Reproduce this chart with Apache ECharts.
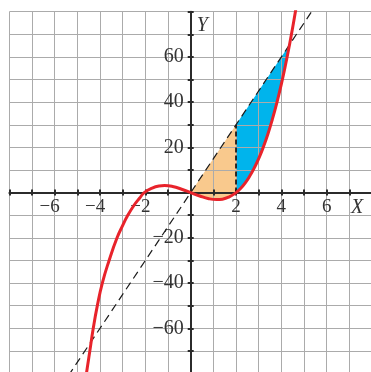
<!DOCTYPE html>
<html>
<head>
<meta charset="utf-8">
<script src="https://cdn.jsdelivr.net/npm/echarts@6/dist/echarts.min.js"></script>
<style>
html,body{margin:0;padding:0;background:#fff;}
#c{width:371px;height:372px;}
</style>
</head>
<body>
<div id="c"></div>
<script>
// ---- data ----
const curveX = [-4.7, -4.6, -4.45, -4.3, -4.12, -3.9, -3.6, -3.25, -3.0, -2.8, -2.5, -2.25, -2.05, -1.7, -1.4, -1.15, -0.8, -0.4, 0, 0.4, 0.8, 1.15, 1.4, 1.7, 2.0, 2.2, 2.4, 2.6, 2.8, 3.0, 3.2, 3.4, 3.6, 3.8, 4.0, 4.2, 4.36, 4.5, 4.62, 4.7];
const curveY = [-88, -80, -70, -60, -50, -40, -30, -20, -14.5, -10.5, -5.6, -2.4, 0, 2.0, 2.9, 3.1, 2.7, 1.5, 0, -1.5, -2.7, -3.1, -2.9, -1.9, 0, 1.8, 4.2, 7.2, 10.8, 15, 20, 25.7, 32.3, 39.7, 48, 57.3, 65.4, 73, 80, 85];
const lineX = [-5.4, 5.4];
const lineY = [-81, 81];
const orangeTopX = [0, 2];
const orangeTopY = [0, 30];
const blueTopX = [2, 4.36];
const blueTopY = [30, 65.4];
const dropX = [2, 2];
const dropY = [0, 30];
const xTickLabels = [-6, -4, -2, 2, 4, 6];
const yTickLabels = [-60, -40, -20, 20, 40, 60];

const FONT = '"Liberation Serif", "DejaVu Serif", serif';
const zip = (xs, ys) => xs.map((x, i) => [x, ys[i]]);
const curve = zip(curveX, curveY);

function curveBetween(a, b) {
  return curve.filter(p => p[0] >= a - 1e-9 && p[0] <= b + 1e-9);
}
const orangePoly = zip(orangeTopX, orangeTopY).concat(curveBetween(orangeTopX[0], orangeTopX[1]).reverse());
const bluePoly = zip(blueTopX, blueTopY).concat(curveBetween(blueTopX[0], blueTopX[1]).reverse());

function polySeries(pts, color) {
  return {
    type: 'custom', coordinateSystem: 'cartesian2d', silent: true, z: -1,
    data: [[0, 0]],
    renderItem: function (params, api) {
      return { type: 'polygon', shape: { points: pts.map(p => api.coord(p)) }, style: { fill: color } };
    }
  };
}

const chart = echarts.init(document.getElementById('c'), null, { renderer: 'canvas' });
const axisCol = '#2b2b2b';
const gridCol = '#ababab';
const GW = 362.6, GH = 361.8;

const option = {
  animation: false,
  backgroundColor: '#fff',
  grid: { left: 9.4, top: 11.7, width: GW, height: GH, containLabel: false, outerBoundsMode: 'none' },
  xAxis: [{
    type: 'value', min: -8, max: 8, interval: 1, position: 'bottom', offset: -GH / 2,
    axisLine: { onZero: false, lineStyle: { color: axisCol, width: 2 } },
    axisTick: { show: true, length: 3, lineStyle: { color: axisCol, width: 2 } },
    splitLine: { show: true, lineStyle: { color: gridCol, width: 1 } },
    axisLabel: {
      margin: 5, color: '#333', fontFamily: FONT, fontSize: 19,
      formatter: function (v) {
        if (xTickLabels.indexOf(v) < 0) return '';
        return v < 0 ? '{n|\u2212' + Math.abs(v) + '}' : String(v);
      },
      rich: { n: { fontFamily: FONT, fontSize: 19, color: '#333', padding: [0, 10, 0, 0] } }
    },
    name: 'X', nameLocation: 'end', nameGap: -21,
    nameTextStyle: { fontFamily: FONT, fontStyle: 'italic', fontSize: 20, color: '#333', align: 'left', verticalAlign: 'top', padding: [5, 0, 0, 0] }
  }, {
    type: 'value', min: -8, max: 8, interval: 1, position: 'bottom', offset: -GH / 2,
    axisLine: { show: false, onZero: false },
    axisTick: { show: true, inside: true, length: 3, lineStyle: { color: axisCol, width: 2 } },
    splitLine: { show: false }, axisLabel: { show: false }
  }],
  yAxis: [{
    type: 'value', min: -80, max: 80, interval: 10, position: 'left', offset: -GW / 2,
    axisLine: { onZero: false, lineStyle: { color: axisCol, width: 2 } },
    axisTick: { show: true, length: 3, lineStyle: { color: axisCol, width: 2 } },
    splitLine: { show: true, lineStyle: { color: gridCol, width: 1 } },
    axisLabel: {
      margin: 7, color: '#333', fontFamily: FONT, fontSize: 20, padding: [5, 0, 0, 0],
      formatter: function (v) {
        if (yTickLabels.indexOf(v) < 0) return '';
        return v < 0 ? '\u2212' + Math.abs(v) : String(v);
      }
    },
    name: 'Y', nameLocation: 'end', nameGap: -4,
    nameTextStyle: { fontFamily: FONT, fontStyle: 'italic', fontSize: 20, color: '#333', align: 'left', verticalAlign: 'top', padding: [0, 0, 0, 6] }
  }, {
    type: 'value', min: -80, max: 80, interval: 10, position: 'left', offset: -GW / 2,
    axisLine: { show: false, onZero: false },
    axisTick: { show: true, inside: true, length: 3, lineStyle: { color: axisCol, width: 2 } },
    splitLine: { show: false }, axisLabel: { show: false }
  }],
  series: [
    polySeries(orangePoly, '#f9c98d'),
    polySeries(bluePoly, '#00b4ec'),
    {
      type: 'line', data: zip(lineX, lineY), showSymbol: false, silent: true, z: 3,
      lineStyle: { color: '#1a1a1a', width: 1.2, type: [8, 5] }
    },
    {
      type: 'line', data: zip(dropX, dropY), showSymbol: false, silent: true, z: 3,
      lineStyle: { color: '#1a1a1a', width: 1.8, type: [5, 3] }
    },
    {
      type: 'line', data: curve, showSymbol: false, silent: true, smooth: true, z: 4,
      lineStyle: { color: '#e8232b', width: 3 }
    }
  ]
};
chart.setOption(option);
</script>
</body>
</html>
